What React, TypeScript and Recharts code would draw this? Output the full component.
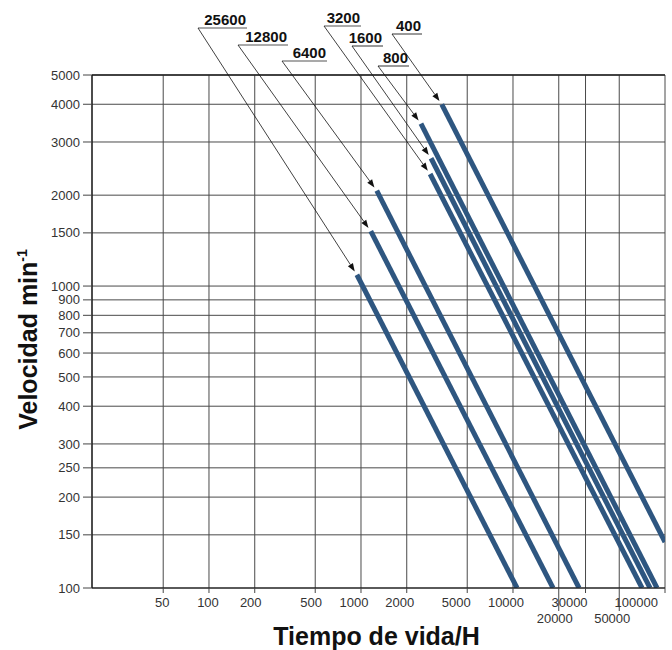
import { LineChart, Line, XAxis, YAxis, CartesianGrid, ReferenceLine, ReferenceDot } from 'recharts'

// Tiempo de vida (h) vs velocidad (min-1), one line per load value
const loadLabels = ['400', '800', '1600', '3200', '6400', '12800', '25600']
const tStart = [3400, 2480, 2890, 2850, 1270, 1160, 940]
const nStart = [4000, 3450, 2650, 2350, 2070, 1520, 1090]
const tEnd = [100000, 88600, 79700, 70600, 27200, 18340, 10630]
const nEnd = [142, 100, 100, 100, 100, 100, 100]

const xTicks = [50, 100, 200, 500, 1000, 2000, 5000, 10000, 20000, 30000, 50000, 100000]
const yTicks = [100, 150, 200, 250, 300, 400, 500, 600, 700, 800, 900, 1000, 1500, 2000, 3000, 4000, 5000]

// where each callout label sits (px): underline left end / y, underline right end
const calloutPos = [
  { ax: 392, ay: 34, ux: 422 },
  { ax: 378, ay: 66, ux: 409 },
  { ax: 352, ay: 46, ux: 383 },
  { ax: 324, ay: 26, ux: 361 },
  { ax: 282, ay: 61, ux: 327 },
  { ax: 238, ay: 45, ux: 288 },
  { ax: 198, ay: 28, ux: 247 },
]

const FONT = '"Liberation Sans", Arial, Helvetica, sans-serif'
const LINE_COLOR = '#2e5680'

const lines = loadLabels.map((label, i) => ({
  label,
  data: [
    { t: tStart[i], n: nStart[i] },
    { t: tEnd[i], n: nEnd[i] },
  ],
}))

function XTick({ x, y, payload }: any) {
  const v = payload.value
  const low = v === 20000 || v === 50000
  const last = v === 100000
  let dx = -1
  if (v === 30000) dx = -16
  else if (v === 5000) dx = -11
  else if (v === 20000) dx = -4
  else if (v >= 1000) dx = -7
  else if (v >= 200) dx = -4
  return (
    <g>
      <line x1={x} x2={x} y1={y} y2={y + (low ? 23 : 5)} stroke="#444" />
      <text
        x={x + dx}
        y={y + (low ? 35 : 19)}
        textAnchor={last ? 'end' : 'middle'}
        fontSize={13}
        fontFamily={FONT}
        fill="#333"
      >
        {v}
      </text>
    </g>
  )
}

function Callout({ cx, cy, idx }: any) {
  const p = calloutPos[idx]
  const ddx = cx - p.ax
  const ddy = cy - p.ay
  const len = Math.sqrt(ddx * ddx + ddy * ddy)
  const ux = ddx / len
  const uy = ddy / len
  // arrow tip stops just short of the line's start
  const tx = cx - ux * 4
  const ty = cy - uy * 4
  const bx = tx - ux * 8
  const by = ty - uy * 8
  const head = `${tx},${ty} ${bx - uy * 3},${by + ux * 3} ${bx + uy * 3},${by - ux * 3}`
  return (
    <g>
      <line x1={p.ax} y1={p.ay} x2={p.ux} y2={p.ay} stroke="#555" strokeWidth={1.2} />
      <line x1={p.ax} y1={p.ay} x2={bx} y2={by} stroke="#111" strokeWidth={0.8} />
      <polygon points={head} fill="#111" />
      <text
        x={p.ux - 1}
        y={p.ay - 3}
        textAnchor="end"
        fontSize={15}
        fontWeight="bold"
        fontFamily={FONT}
        fill="#111"
      >
        {loadLabels[idx]}
      </text>
    </g>
  )
}

function YTitle({ viewBox }: any) {
  const cx = viewBox.x + 37
  const cy = viewBox.y + viewBox.height / 2 + 8
  return (
    <text
      x={cx}
      y={cy}
      transform={`rotate(-90, ${cx}, ${cy})`}
      textAnchor="middle"
      fontSize={25}
      fontWeight="bold"
      fontFamily={FONT}
      fill="#111"
    >
      <tspan>Velocidad min</tspan>
      <tspan dy={-10} fontSize={14}>-1</tspan>
    </text>
  )
}

function XTitle({ viewBox }: any) {
  return (
    <text
      x={viewBox.x + viewBox.width / 2 - 2}
      y={viewBox.y + 57}
      textAnchor="middle"
      fontSize={25}
      fontWeight="bold"
      fontFamily={FONT}
      fill="#111"
    >
      Tiempo de vida/H
    </text>
  )
}

export default function App() {
  return (
    <div style={{ width: 672, height: 650, background: '#fff' }}>
      <style>{'body{margin:0}'}</style>
      <LineChart width={672} height={650} margin={{ top: 75, right: 7, bottom: 0, left: 0 }}>
        <CartesianGrid stroke="#4a4a4a" strokeWidth={1} />
        <XAxis
          type="number"
          dataKey="t"
          scale="log"
          domain={[17, 100000]}
          allowDataOverflow
          ticks={xTicks}
          interval={0}
          height={62}
          tickSize={0}
          tickMargin={0}
          tickLine={false}
          tick={<XTick />}
          axisLine={{ stroke: '#111', strokeWidth: 1.2 }}
          label={<XTitle />}
        />
        <YAxis
          type="number"
          dataKey="n"
          scale="log"
          domain={[100, 5000]}
          allowDataOverflow
          ticks={yTicks}
          interval={0}
          width={92}
          tickSize={9}
          tickMargin={3}
          tickLine={{ stroke: '#444' }}
          tick={{ fontSize: 13, fill: '#333', fontFamily: FONT }}
          axisLine={{ stroke: '#111', strokeWidth: 1.2 }}
          label={<YTitle />}
        />
        <ReferenceLine y={5000} stroke="#222" strokeWidth={1.5} />
        {lines.map((l) => (
          <Line
            key={l.label}
            data={l.data}
            dataKey="n"
            stroke={LINE_COLOR}
            strokeWidth={5}
            dot={false}
            activeDot={false}
            isAnimationActive={false}
          />
        ))}
        {lines.map((l, i) => (
          <ReferenceDot
            key={'c' + l.label}
            x={l.data[0].t}
            y={l.data[0].n}
            ifOverflow="visible"
            shape={(props: any) => <Callout cx={props.cx} cy={props.cy} idx={i} />}
          />
        ))}
      </LineChart>
    </div>
  )
}
